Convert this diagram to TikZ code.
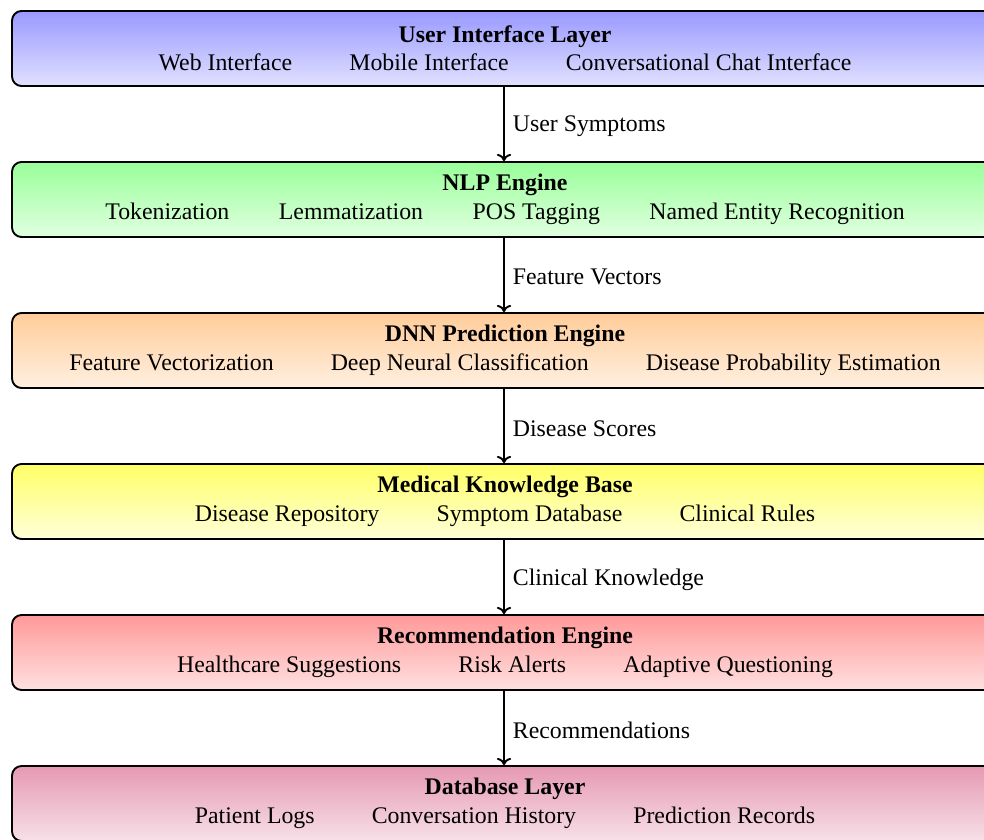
\documentclass[tikz,border=0pt]{standalone}
\usepackage{fontspec}
\setmainfont{Liberation Serif}
\usetikzlibrary{arrows.meta}
\begin{document}
\begin{tikzpicture}[x=0.42pt,y=-0.42pt,
  layer/.style={draw=black, thick, rounded corners=4pt, minimum width=414.1pt, minimum height=31.5pt,
    align=center, inner sep=0pt, font=\fontsize{10}{12}\selectfont},
  flow/.style={thick, -{To[length=3pt,width=6pt]}},
  flowlabel/.style={right, font=\fontsize{10}{12}\selectfont, xshift=0pt, yshift=-1pt}]
\useasboundingbox (0,0) rectangle (984,839);
\clip (0,0) rectangle (984,839);
\newcommand{\sep}{\hspace{24pt}}
\newcommand{\nsep}{\hspace{20.8pt}}
\node[layer, top color=blue!40, bottom color=blue!12] (b1) at (505,48.5)
  {\textbf{User Interface Layer}\\Web Interface\sep Mobile Interface\sep Conversational Chat Interface};
\node[layer, top color=green!40, bottom color=green!12] (b2) at (505,199.5)
  {\textbf{NLP Engine}\\Tokenization\nsep Lemmatization\nsep POS Tagging\nsep Named Entity Recognition};
\node[layer, top color=orange!40, bottom color=orange!12] (b3) at (505,350.5)
  {\textbf{DNN Prediction Engine}\\Feature Vectorization\sep Deep Neural Classification\sep Disease Probability Estimation};
\node[layer, top color=yellow!60, bottom color=yellow!15] (b4) at (505,501.5)
  {\textbf{Medical Knowledge Base}\\Disease Repository\sep Symptom Database\sep Clinical Rules};
\node[layer, top color=red!40, bottom color=red!12] (b5) at (505,652.5)
  {\textbf{Recommendation Engine}\\Healthcare Suggestions\sep Risk Alerts\sep Adaptive Questioning};
\node[layer, top color=purple!40, bottom color=purple!12] (b6) at (505,803.5)
  {\textbf{Database Layer}\\Patient Logs\sep Conversation History\sep Prediction Records};
\draw[flow] (b1.south -| 504,0) -- node[flowlabel]{User Symptoms} (b2.north -| 504,0);
\draw[flow] (b2.south -| 504,0) -- node[flowlabel]{Feature Vectors} (b3.north -| 504,0);
\draw[flow] (b3.south -| 504,0) -- node[flowlabel]{Disease Scores} (b4.north -| 504,0);
\draw[flow] (b4.south -| 504,0) -- node[flowlabel]{Clinical Knowledge} (b5.north -| 504,0);
\draw[flow] (b5.south -| 504,0) -- node[flowlabel]{Recommendations} (b6.north -| 504,0);
\end{tikzpicture}
\end{document}
